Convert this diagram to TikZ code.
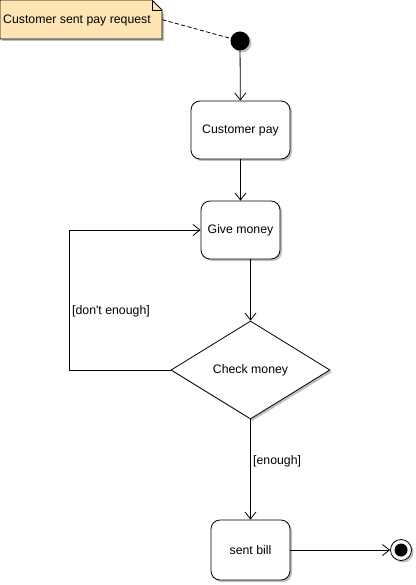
\documentclass[tikz,border=0pt]{standalone}
\usepackage{fontspec}
\newfontfamily\lfont{Liberation Sans}
\usetikzlibrary{arrows.meta,shapes.geometric,shadows}
\definecolor{notefill}{RGB}{255,229,180}
\tikzset{
  x=1pt,y=-1pt,
  every node/.style={font=\lfont\fontsize{12.3}{14}\selectfont},
  shad/.style={drop shadow={shadow xshift=2pt,shadow yshift=-2pt,fill=black!25,opacity=1}},
  actbox/.style={draw,thick,rounded corners=9pt,fill=white,shad,minimum height=58pt,inner sep=0pt},
  decide/.style={diamond,draw,thick,fill=white,shad,minimum width=159pt,minimum height=98pt,inner sep=0pt,aspect=1.62},
  arr/.style={thick,-{Straight Barb[length=7pt,width=11pt]}},
  lbl/.style={anchor=west,inner sep=0pt},
}
\begin{document}
\begin{tikzpicture}
\useasboundingbox (0,0) rectangle (415,585);
% note
\fill[black!25] (2,2) -- (152,2) -- (164,14) -- (164,41) -- (2,41) -- cycle;
\draw[thick,fill=notefill] (0,0) -- (152,0) -- (162,10) -- (162,39) -- (0,39) -- cycle;
\draw[thick] (152,0) -- (152,10) -- (162,10);
\node (note) [inner sep=0pt,minimum width=162pt,minimum height=39pt,anchor=north west] at (0,0) {};
\node at (77,20) {Customer sent pay request};
% initial
\node (init) [circle,fill=black,minimum size=19pt,inner sep=0pt,shad] at (240,41) {};
\draw[thick,dash pattern=on 4pt off 2.5pt] (note.east) -- (init);
% actions
\node (cp) [actbox,minimum width=99pt] at (240.5,130) {Customer pay};
\node (gm) [actbox,minimum width=79pt] at (240.5,230) {Give money};
\node (cm) [decide] at (250.5,370) {Check money};
\node (sb) [actbox,minimum width=79pt,minimum height=60pt] at (250.5,550) {sent bill};
% final
\node (fin) [circle,draw,thick,fill=white,minimum size=21pt,inner sep=0pt,shad] at (401,550) {};
\node [circle,fill=black,minimum size=13pt,inner sep=0pt] at (fin) {};
% edges
\draw[arr] (init) -- (cp);
\draw[arr] (cp) -- (gm);
\draw[arr] (cm.north |- gm.south) -- (cm.north);
\draw[arr] (cm.west) -- ++(-101,0) |- (gm.west);
\draw[arr] (cm.south) -- (sb.north);
\draw[arr] (sb.east) -- (fin.west);
\node[lbl] at (72,311) {[don't enough]};
\node[lbl] at (253,461) {[enough]};
\end{tikzpicture}
\end{document}
